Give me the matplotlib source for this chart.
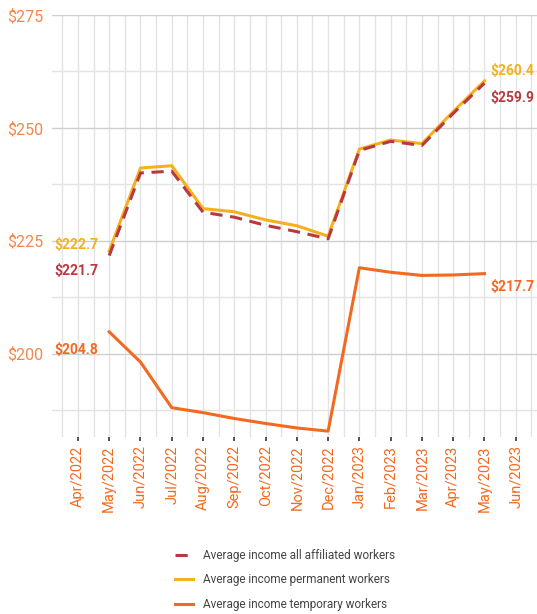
import matplotlib.pyplot as plt
import matplotlib.ticker as mticker

plt.rcParams['font.family'] = ['Roboto', 'DejaVu Sans']

months = ["Apr/2022", "May/2022", "Jun/2022", "Jul/2022", "Aug/2022", "Sep/2022", "Oct/2022",
          "Nov/2022", "Dec/2022", "Jan/2023", "Feb/2023", "Mar/2023", "Apr/2023", "May/2023", "Jun/2023"]

# data runs May/2022 .. May/2023 (index 1..13)
data_months = months[1:14]
all_workers = [221.7, 240.0, 240.4, 231.3, 230.2, 228.4, 227.0, 225.4, 245.0, 247.0, 246.1, 253.2, 259.9]
permanent = [222.7, 241.1, 241.6, 232.1, 231.4, 229.6, 228.3, 226.0, 245.3, 247.3, 246.5, 253.6, 260.4]
temporary = [204.8, 198.1, 188.0, 186.9, 185.6, 184.5, 183.5, 182.8, 219.0, 218.0, 217.3, 217.4, 217.7]

c_red = "#B8393F"
c_yellow = "#F5B01E"
c_orange = "#F26A21"
c_tick = "#F2874E"

x = [months.index(m) for m in data_months]

fig = plt.figure(figsize=(5.37, 6.14), dpi=100)
ax = fig.add_axes([52 / 537, 1 - 437 / 614, 485 / 537, 422 / 614])

ax.plot(x, permanent, color=c_yellow, lw=2.2, label="Average income permanent workers", zorder=3)
ax.plot(x, all_workers, color=c_red, lw=2.2, dashes=(4, 2.5), label="Average income all affiliated workers", zorder=4)
ax.plot(x, temporary, color=c_orange, lw=2.2, label="Average income temporary workers", zorder=3)

ax.set_xlim(-0.83, 14.68)
ax.set_ylim(181.5, 275)

ax.set_xticks(range(len(months)))
ax.set_xticklabels(months, rotation=90, color=c_orange, fontsize=10.5)
ax.xaxis.set_minor_locator(mticker.MultipleLocator(0.5, offset=0.0))
ax.set_yticks([200, 225, 250, 275])
ax.set_yticklabels(["$200", "$225", "$250", "$275"], color=c_tick, fontsize=11.5)
ax.yaxis.set_minor_locator(mticker.MultipleLocator(12.5))

ax.tick_params(axis='x', which='major', length=3, width=1.2, color="#333333", pad=3)
ax.tick_params(axis='x', which='minor', length=0)
ax.tick_params(axis='y', which='both', length=0, pad=6)
ax.grid(True, which='both', color="#E3E3E3", lw=1.0)
ax.grid(True, which='major', axis='y', color="#CFCFCF", lw=1.0)
ax.set_axisbelow(True)
for s in ax.spines.values():
    s.set_visible(False)

# value labels at both ends
lbl = dict(fontsize=10, fontweight='bold', va='center', clip_on=False)
ax.text(0.65, permanent[0] + 1.3, f"${permanent[0]}", color=c_yellow, ha='right', **lbl)
ax.text(0.65, all_workers[0] - 3.4, f"${all_workers[0]}", color=c_red, ha='right', **lbl)
ax.text(0.65, temporary[0] - 4.0, f"${temporary[0]}", color=c_orange, ha='right', **lbl)
ax.text(13.2, permanent[-1] + 2.2, f"${permanent[-1]}", color=c_yellow, ha='left', **lbl)
ax.text(13.2, all_workers[-1] - 3.2, f"${all_workers[-1]}", color=c_red, ha='left', **lbl)
ax.text(13.2, temporary[-1] - 3.0, f"${temporary[-1]}", color=c_orange, ha='left', **lbl)

h, l = ax.get_legend_handles_labels()
order = [1, 0, 2]
fig.legend([h[i] for i in order], [l[i] for i in order], loc='center', bbox_to_anchor=(285 / 537, 1 - 580 / 614),
           frameon=False, fontsize=8.5, handlelength=1.5, labelcolor="#444444", labelspacing=1.0)

fig.savefig("out.png", dpi=100)
